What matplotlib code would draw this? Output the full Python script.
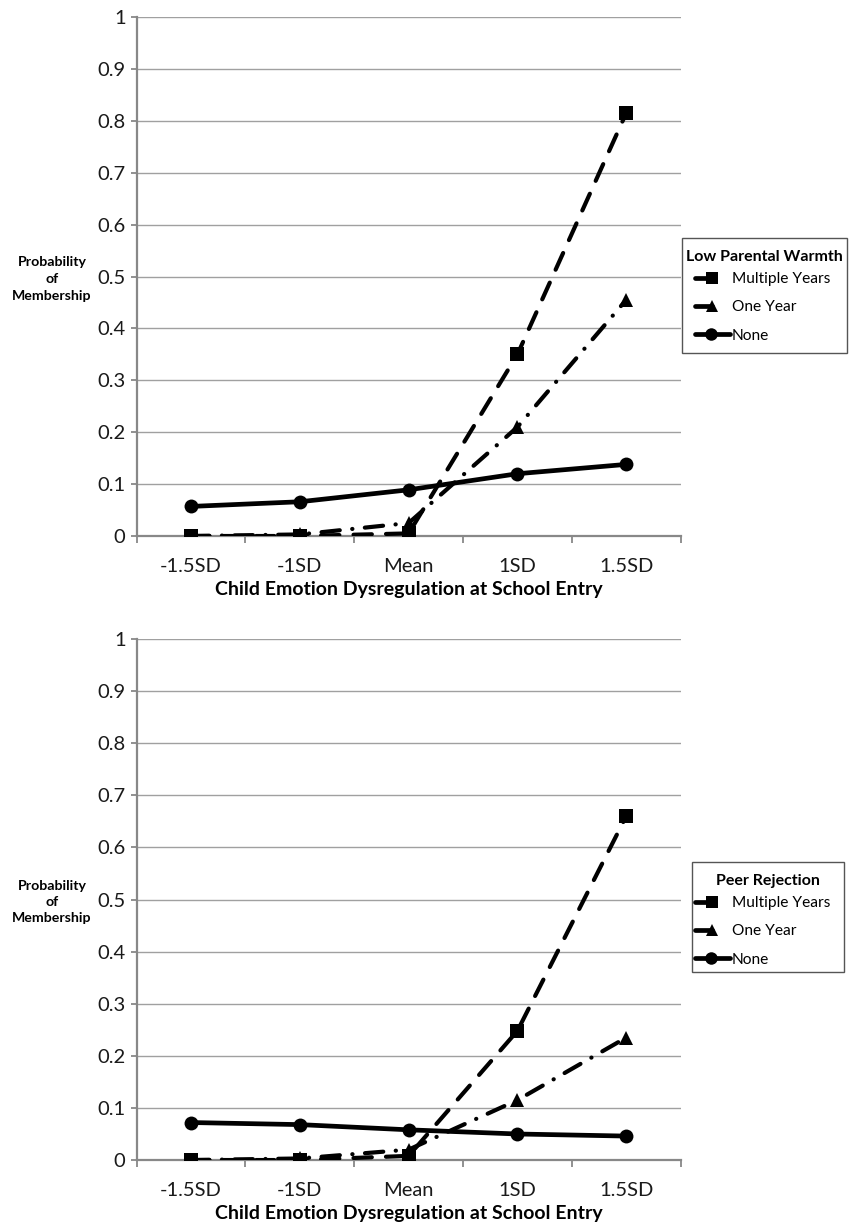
import matplotlib
matplotlib.use("Agg")
import matplotlib.pyplot as plt
from matplotlib.lines import Line2D
from matplotlib.patches import Rectangle
from matplotlib.legend_handler import HandlerLine2D

categories = ["-1.5SD", "-1SD", "Mean", "1SD", "1.5SD"]
series_names = ["Multiple Years", "One Year", "None"]

warmth_multiple = [0.0, 0.0, 0.005, 0.35, 0.815]
warmth_one = [0.0, 0.003, 0.025, 0.21, 0.455]
warmth_none = [0.057, 0.066, 0.089, 0.12, 0.138]

peer_multiple = [0.0, 0.0, 0.008, 0.248, 0.66]
peer_one = [0.0, 0.003, 0.02, 0.115, 0.235]
peer_none = [0.072, 0.068, 0.058, 0.05, 0.046]

yticks = [0, 0.1, 0.2, 0.3, 0.4, 0.5, 0.6, 0.7, 0.8, 0.9, 1]
ytick_labels = ["0", "0.1", "0.2", "0.3", "0.4", "0.5", "0.6", "0.7", "0.8", "0.9", "1"]

xlabel = "Child Emotion Dysregulation at School Entry"
ylabel = "Probability\nof\nMembership"

FONT = ["Lato", "DejaVu Sans"]
plt.rcParams["font.family"] = FONT

W, H = 854, 1226
LEG_FS = 11.2
TEXTPAD = 0.85


class ExcelHandler(HandlerLine2D):
    """Legend key: short line with marker at its end (or centred for solid)."""

    def __init__(self, centred=False, **kw):
        super().__init__(**kw)
        self.centred = centred

    def create_artists(self, legend, orig_handle, xdescent, ydescent,
                       width, height, fontsize, trans):
        y = height / 2.0 - ydescent
        x0 = -xdescent
        if self.centred:
            x1 = x0 + width + fontsize * TEXTPAD * 0.9
            xm = x0 + width * 0.7
        else:
            x1 = x0 + width * 0.75
            xm = x1
        line = Line2D([x0, x1], [y, y], color="black",
                      linewidth=orig_handle.get_linewidth(),
                      solid_capstyle="round")
        mk = Line2D([xm], [y], color="black", linestyle="",
                    marker=orig_handle.get_marker(),
                    markersize=orig_handle.get_markersize(),
                    markeredgewidth=0)
        line.set_transform(trans)
        mk.set_transform(trans)
        return [line, mk]


fig = plt.figure(figsize=(W / 100, H / 100), dpi=100)

styles = [
    dict(marker="s", markersize=9.5, linestyle=(0, (4.4, 3.4)), lw=3.0,
         dash_capstyle="round"),
    dict(marker="^", markersize=9.8, linestyle=(0, (4.4, 3.0, 0.05, 3.0)), lw=3.0,
         dash_capstyle="round"),
    dict(marker="o", markersize=10, linestyle="-", lw=3.4),
]

# layout in pixels: legend box (x0, y0, x1, y1), title centre, entries top
panels = [
    dict(rect=[0.160, 0.5628, 0.637, 0.4233],
         data=[warmth_multiple, warmth_one, warmth_none],
         title="Low Parental Warmth", box=(682, 238, 847, 353),
         title_c=(764.5, 257), entries_top=(695, 272), ylab=(52, 279)),
    dict(rect=[0.160, 0.0538, 0.637, 0.4250],
         data=[peer_multiple, peer_one, peer_none],
         title="Peer Rejection", box=(692, 862, 844, 972),
         title_c=(768, 881), entries_top=(695, 896), ylab=(52, 902)),
]

for p in panels:
    ax = fig.add_axes(p["rect"])
    x = list(range(len(categories)))
    handles = []
    for vals, st, name in zip(p["data"], styles, series_names):
        ax.plot(x, vals, color="black", marker=st["marker"],
                markersize=st["markersize"], linestyle=st["linestyle"],
                linewidth=st["lw"], solid_capstyle="round",
                dash_capstyle=st.get("dash_capstyle", "butt"),
                markeredgewidth=0, label=name, zorder=3)
        handles.append(Line2D([], [], color="black", marker=st["marker"],
                              markersize=st["markersize"] * 0.9, linestyle="-",
                              linewidth=3.4, markeredgewidth=0))
    ax.set_xlim(-0.5, len(categories) - 0.5)
    ax.set_ylim(0, 1)
    ax.set_yticks(yticks)
    ax.set_yticklabels(ytick_labels, fontsize=14.5, color="#1a1a1a")
    ax.set_xticks(x)
    ax.set_xticklabels(categories, fontsize=14.5, color="#1a1a1a")
    ax.set_xticks([i + 0.5 for i in range(-1, len(categories))], minor=True)
    ax.tick_params(axis="x", which="major", length=0, pad=16)
    ax.tick_params(axis="x", which="minor", length=5, color="#888888", width=1.3)
    ax.tick_params(axis="y", length=4, color="#888888", width=1.3, pad=4)
    ax.grid(axis="y", color="#a0a0a0", linewidth=1.0)
    ax.set_axisbelow(True)
    for s in ["top", "right"]:
        ax.spines[s].set_visible(False)
    for s in ["left", "bottom"]:
        ax.spines[s].set_color("#888888")
        ax.spines[s].set_linewidth(1.6)
    ax.set_xlabel(xlabel, fontsize=14, fontweight="bold", labelpad=4)
    fig.text(p["ylab"][0] / W, 1 - p["ylab"][1] / H, ylabel, ha="center",
             va="center", fontsize=10.2, fontweight="bold", linespacing=1.45)

    hmap = {handles[0]: ExcelHandler(), handles[1]: ExcelHandler(),
            handles[2]: ExcelHandler(centred=True)}
    ex, ey = p["entries_top"]
    fig.legend(handles, series_names, loc="upper left",
               bbox_to_anchor=(ex / W, 1 - ey / H), fontsize=LEG_FS,
               frameon=False, handlelength=1.5, handletextpad=TEXTPAD,
               borderpad=0, labelspacing=0.92, numpoints=1,
               handler_map=hmap, borderaxespad=0)
    tx, ty = p["title_c"]
    fig.text(tx / W, 1 - ty / H, p["title"], ha="center", va="center",
             fontsize=11.5, fontweight="bold")
    bx0, by0, bx1, by1 = p["box"]
    fig.patches.append(Rectangle((bx0 / W, 1 - by1 / H), (bx1 - bx0) / W,
                                 (by1 - by0) / H, transform=fig.transFigure,
                                 fill=False, edgecolor="#555555", linewidth=1.0))

fig.savefig("out.png", dpi=100, facecolor="white")
